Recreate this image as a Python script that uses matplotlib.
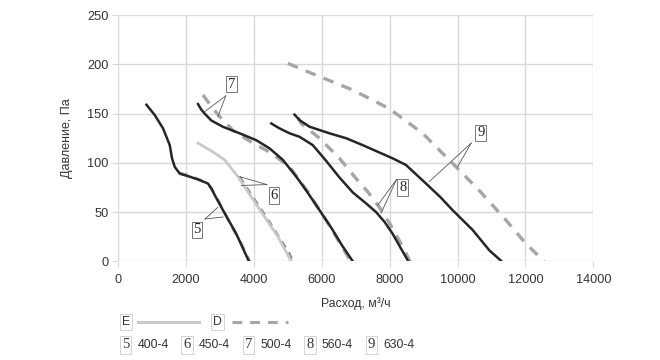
import matplotlib
matplotlib.use("Agg")
import matplotlib.pyplot as plt
from matplotlib.lines import Line2D

plt.rcParams['font.family'] = ['Liberation Sans', 'DejaVu Sans']

# ---- data ----
e5_x = [835, 1079, 1323, 1520, 1588, 1667, 1815, 2108, 2403, 2647, 2750, 2850, 3088, 3480, 3853]
e5_y = [159, 148.5, 135, 118, 104.6, 96, 89, 86, 82.5, 79, 74, 67, 52, 28, 0]
d5_x = [1800, 2100, 2400, 2700, 2950, 3300, 3600, 3880]
d5_y = [90, 87, 83, 76, 62, 38, 20, 0]

e6_x = [2353, 2750, 3138, 3300, 3529, 4117, 4706, 5100]
e6_y = [120, 112, 103, 96, 86, 55.4, 25, 0]
d6_x = [3579, 4000, 4500, 5050, 5150]
d6_y = [86, 64, 38, 8, 0]

e7_x = [2353, 2450, 2550, 2746, 3088, 3579, 4070, 4462, 4853, 5247, 5541, 5932, 6300, 6600, 6914]
e7_y = [159.7, 154, 150, 143, 136.6, 130, 123, 114.7, 103, 86, 72, 52, 33, 16, 0]
d7_x = [2500, 2750, 2990, 3382, 3970, 4462, 5050, 5600, 6200, 6850]
d7_y = [169, 157, 147, 133, 120, 111, 96, 70, 38, 0]

e8_x = [4511, 4755, 5050, 5344, 5735, 6129, 6500, 6912, 7300, 7600, 7850, 8088, 8300, 8550]
e8_y = [140, 135, 130, 126.5, 118, 102, 86, 70, 59, 50, 40, 28, 15, 0]
d8_x = [5300, 5393, 5932, 6520, 7011, 7353, 7697, 7991, 8300, 8600]
d8_y = [146, 140, 125, 104.6, 84, 70.7, 55, 39, 20, 0]

e9_x = [5197, 5344, 5638, 6226, 6717, 7206, 7600, 8088, 8482, 9070, 9500, 9853, 10441, 10941, 11300]
e9_y = [149, 143.4, 136.7, 130, 125, 118, 112, 104.6, 97.8, 79, 65, 52, 32, 11, 0]
d9_x = [5000, 5835, 6912, 7991, 8970, 9853, 10638, 11423, 12012, 12550]
d9_y = [201, 189, 174, 155, 130, 99.5, 72, 42, 18, 0]

labels = ['5', '6', '7', '8', '9']
models = ['400-4', '450-4', '500-4', '560-4', '630-4']
label_pos = [(2325, 32), (4590, 67), (3335, 180), (8382, 75), (10688, 130.5)]
leader_e = [(2940, 55), (3580, 86), (2550, 152), (7647, 57), (9167, 81)]
leader_d = [(3090, 45), (3630, 77), (2940, 147), (7747, 49), (10000, 96)]
leader_from = [(2560, 43), (4380, 78), (3170, 168), (8200, 83), (10400, 120)]

x_ticks = [0, 2000, 4000, 6000, 8000, 10000, 12000, 14000]
y_ticks = [0, 50, 100, 150, 200, 250]

# ---- figure ----
fig = plt.figure(figsize=(6.6, 3.6), dpi=100)
ax = fig.add_axes([0.179, 0.274, 0.72, 0.684])
ax.set_xlim(0, 14000)
ax.set_ylim(0, 250)
ax.set_xticks(x_ticks)
ax.set_yticks(y_ticks)
ax.grid(True, color='#d9d9d9', linewidth=1.0)
ax.set_axisbelow(True)
for s in ax.spines.values():
    s.set_visible(False)
ax.tick_params(axis='both', length=4, color='#d9d9d9', labelsize=9.2, labelcolor='#333333')
ax.tick_params(axis='x', pad=5)
ax.tick_params(axis='y', pad=3)

black = '#262626'
dash_c = '#a6a6a6'
light = '#c9c9c9'
dsh = (0, (3.2, 2.6))

ax.plot(d9_x, d9_y, color=dash_c, lw=2.4, ls=dsh, zorder=2)
ax.plot(d8_x, d8_y, color=dash_c, lw=2.4, ls=dsh, zorder=2)
ax.plot(d7_x, d7_y, color=dash_c, lw=2.4, ls=dsh, zorder=2)
ax.plot(d6_x, d6_y, color='#8c8c8c', lw=1.6, ls=dsh, zorder=2)
ax.plot(d5_x, d5_y, color=dash_c, lw=2.0, ls=dsh, zorder=2)

ax.plot(e6_x, e6_y, color=light, lw=2.0, zorder=3)
for xs, ys in [(e5_x, e5_y), (e7_x, e7_y), (e8_x, e8_y), (e9_x, e9_y)]:
    ax.plot(xs, ys, color=black, lw=1.8, zorder=3, solid_joinstyle='round')

for lab, pos, pe, pd, pf in zip(labels, label_pos, leader_e, leader_d, leader_from):
    ax.plot([pf[0], pe[0]], [pf[1], pe[1]], color='#555555', lw=0.6, zorder=4)
    ax.plot([pf[0], pd[0]], [pf[1], pd[1]], color='#555555', lw=0.6, zorder=4)
    ax.text(pos[0], pos[1], lab, ha='center', va='center', fontsize=10.5,
            family='Liberation Serif', color='#222222', zorder=5,
            bbox=dict(boxstyle='square,pad=0.12', fc='white', ec='#777777', lw=0.7))

ax.set_xlabel('Расход, м³/ч', fontsize=8.8, color='#333333', labelpad=8)
ax.set_ylabel('Давление, Па', fontsize=9, color='#333333', labelpad=10)

# ---- legend (manual) ----
box = dict(boxstyle='square,pad=0.15', fc='white', ec='#cccccc', lw=0.6)
row1 = 1 - 322 / 360
row2 = 1 - 345 / 360
fig.text(126 / 660, row1, 'E', fontsize=8.8, ha='center', va='center', color='#333333', bbox=box)
fig.add_artist(Line2D([138 / 660, 199 / 660], [row1] * 2, color=light, lw=2.2))
fig.text(217.5 / 660, row1, 'D', fontsize=8.8, ha='center', va='center', color='#333333', bbox=box)
fig.add_artist(Line2D([232 / 660, 288 / 660], [row1] * 2, color=dash_c, lw=2.2, ls=dsh))

num_x = [125.5, 187, 248.5, 310, 371.5]
for lab, mdl, nx in zip(labels, models, num_x):
    fig.text(nx / 660, row2, lab, fontsize=10.5, family='Liberation Serif', ha='center',
             va='center', color='#333333', bbox=box)
    fig.text((nx + 12) / 660, row2, mdl, fontsize=8.8, ha='left', va='center', color='#333333')

fig.savefig('out.png', dpi=100)
